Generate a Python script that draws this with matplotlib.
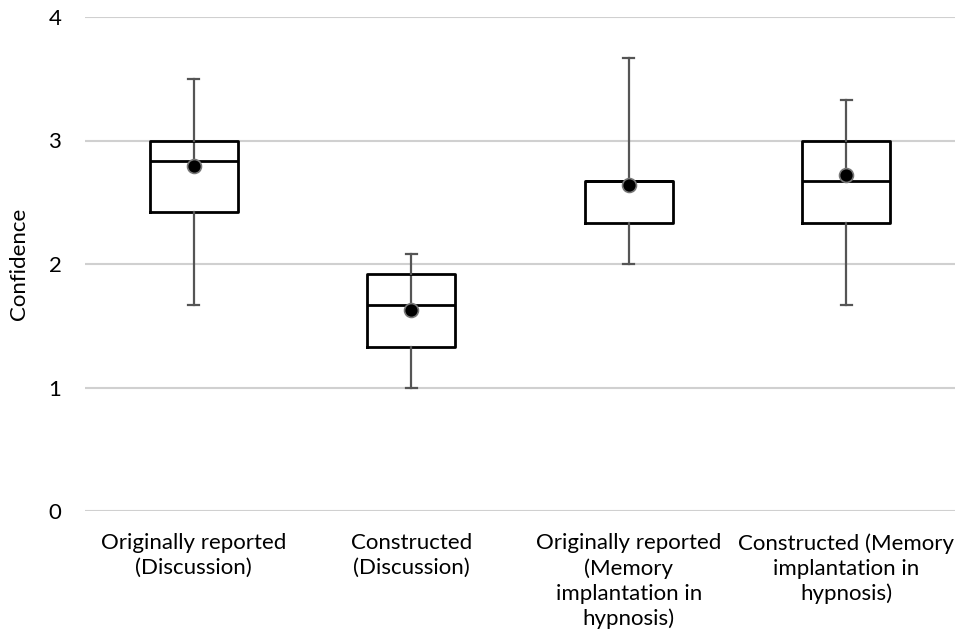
import matplotlib.pyplot as plt

categories = ["Originally reported\n(Discussion)",
              "Constructed\n(Discussion)",
              "Originally reported\n(Memory\nimplantation in\nhypnosis)",
              "Constructed (Memory\nimplantation in\nhypnosis)"]
whisker_low = [1.67, 1.00, 2.00, 1.67]
q1 = [2.42, 1.33, 2.33, 2.33]
median = [2.83, 1.67, 2.67, 2.67]
q3 = [3.00, 1.92, 2.67, 3.00]
whisker_high = [3.50, 2.08, 3.67, 3.33]
means = [2.79, 1.63, 2.64, 2.72]

plt.rcParams['font.family'] = ['Lato', 'DejaVu Sans']

fig = plt.figure(figsize=(9.55, 6.44), dpi=100)
ax = fig.add_axes([85 / 955, 133 / 644, 870 / 955, 494 / 644])

stats = []
for i in range(len(categories)):
    stats.append({'whislo': whisker_low[i], 'q1': q1[i], 'med': median[i],
                  'q3': q3[i], 'whishi': whisker_high[i], 'mean': means[i],
                  'fliers': []})

pos = list(range(len(categories)))
ax.bxp(stats, positions=pos, widths=0.405, capwidths=0.05, showmeans=True,
       boxprops=dict(color='black', linewidth=2),
       medianprops=dict(color='black', linewidth=2),
       whiskerprops=dict(color='#555555', linewidth=1.6),
       capprops=dict(color='#555555', linewidth=1.6),
       meanprops=dict(marker='o', markerfacecolor='black',
                      markeredgecolor='#777777', markersize=10,
                      markeredgewidth=1.2),
       zorder=3)

# Excel-style: upper whisker continues down to the median inside the box
ax.vlines(pos, median, q3, color='#555555', linewidth=1.6, zorder=2)

ax.set_xlim(-0.5, len(categories) - 0.5)
ax.set_ylim(0, 4)
ax.set_yticks([0, 1, 2, 3, 4])
ax.set_xticks(pos)
ax.set_xticklabels(categories, fontsize=16, linespacing=1.3)
ax.tick_params(axis='y', labelsize=16, length=0, pad=17)
ax.tick_params(axis='x', length=0, pad=16)
ax.yaxis.grid(True, color='#d0d0d0', linewidth=1.5)
ax.set_axisbelow(True)
for s in ax.spines.values():
    s.set_visible(False)
ax.set_ylabel('Confidence', fontsize=16, labelpad=14)

fig.savefig('out.png', dpi=100)
